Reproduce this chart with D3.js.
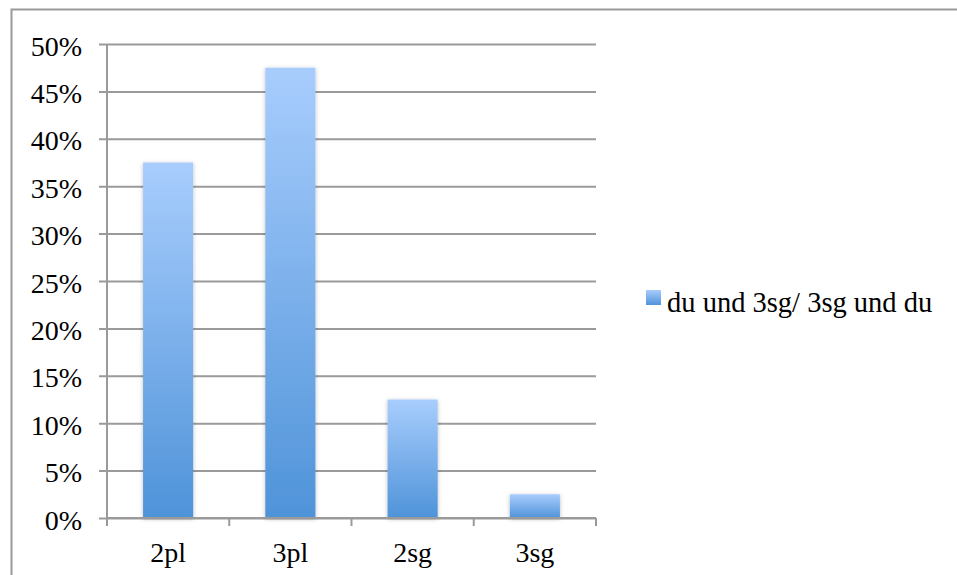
<!DOCTYPE html>
<html>
<head>
<meta charset="utf-8">
<script src="https://cdn.jsdelivr.net/npm/d3@7"></script>
<style>
  body { margin: 0; background: #fff; }
  text { font-family: "Liberation Serif", "DejaVu Serif", serif; fill: #000; }
</style>
</head>
<body>
<svg id="chart" width="957" height="575"></svg>
<script>
// Chart data
var categories = ["2pl", "3pl", "2sg", "3sg"];
var values = [37.5, 47.5, 12.5, 2.5];
var seriesName = "du und 3sg/ 3sg und du";
var yTicks = [0, 5, 10, 15, 20, 25, 30, 35, 40, 45, 50];

var svg = d3.select("svg#chart");
var margin = {top: 44, left: 107, right: 361, bottom: 57},
    width = 957 - margin.left - margin.right,
    height = 575 - margin.top - margin.bottom;

// outer frame (only top and left edges visible)
svg.append("path")
    .attr("d", "M11.5,575 V9.5 H957")
    .attr("fill", "none")
    .attr("stroke", "#9a9a9a")
    .attr("stroke-width", 2);

var defs = svg.append("defs");
var grad = defs.append("linearGradient")
    .attr("id", "barGrad")
    .attr("x1", 0).attr("y1", 0).attr("x2", 0).attr("y2", 1);
grad.append("stop").attr("offset", "0%").attr("stop-color", "#a8cdfd");
grad.append("stop").attr("offset", "100%").attr("stop-color", "#4f93d9");

var shadow = defs.append("filter").attr("id", "shadow")
    .attr("x", "-20%").attr("y", "-20%").attr("width", "140%").attr("height", "140%");
shadow.append("feDropShadow")
    .attr("dx", 0).attr("dy", 1).attr("stdDeviation", 2)
    .attr("flood-color", "#000").attr("flood-opacity", 0.25);

var container = svg.append("g")
    .attr("transform", "translate(" + margin.left + "," + margin.top + ")");

var x = d3.scaleBand()
    .domain(categories)
    .range([0, width])
    .paddingInner(0.59)
    .paddingOuter(0.295);

var y = d3.scaleLinear()
    .domain([0, 50])
    .range([height, 0]);

// gridlines + y axis
var yAxis = container.append("g")
    .call(d3.axisLeft(y).tickValues(yTicks).tickSize(-width).tickSizeOuter(0)
        .tickFormat(function(d) { return d + "%"; }));
yAxis.select(".domain").remove();
yAxis.selectAll(".tick line")
    .attr("x1", -8)
    .attr("stroke", "#9a9a9a")
    .attr("stroke-width", 2);
yAxis.selectAll(".tick text")
    .attr("x", -25)
    .attr("dy", "11px")
    .style("font-size", "28px")
    .style("font-family", "Liberation Serif")
    .style("fill", "#000");

// vertical axis line
container.append("line")
    .attr("x1", 0).attr("x2", 0)
    .attr("y1", y(50)).attr("y2", height + 8)
    .attr("stroke", "#9a9a9a").attr("stroke-width", 2);

// bars
container.selectAll("rect.bar")
    .data(values)
  .enter().append("rect")
    .attr("class", "bar")
    .attr("x", function(d, i) { return x(categories[i]); })
    .attr("y", function(d) { return y(d); })
    .attr("width", x.bandwidth())
    .attr("height", function(d) { return height - y(d); })
    .attr("fill", "url(#barGrad)")
    .attr("filter", "url(#shadow)");

// x axis
var xAxis = container.append("g")
    .attr("transform", "translate(0," + height + ")");
xAxis.append("line")
    .attr("x1", 0).attr("x2", width)
    .attr("stroke", "#9a9a9a").attr("stroke-width", 2);
var boundaries = categories.map(function(c) { return x(c) - x.step() * x.paddingOuter(); });
boundaries.push(width);
xAxis.selectAll("line.xt")
    .data(boundaries)
  .enter().append("line")
    .attr("class", "xt")
    .attr("x1", function(d) { return d; }).attr("x2", function(d) { return d; })
    .attr("y1", 0).attr("y2", 8)
    .attr("stroke", "#9a9a9a").attr("stroke-width", 2);
xAxis.selectAll("text.xl")
    .data(categories)
  .enter().append("text")
    .attr("class", "xl")
    .attr("x", function(d) { return x(d) + x.bandwidth() / 2; })
    .attr("y", 44)
    .attr("text-anchor", "middle")
    .style("font-size", "28px")
    .text(function(d) { return d; });

// legend
var legend = svg.append("g").attr("transform", "translate(646,290)");
legend.append("rect")
    .attr("width", 15).attr("height", 15)
    .attr("fill", "url(#barGrad)");
legend.append("text")
    .attr("x", 21).attr("y", 22)
    .style("font-size", "28.5px")
    .text(seriesName);
</script>
</body>
</html>
